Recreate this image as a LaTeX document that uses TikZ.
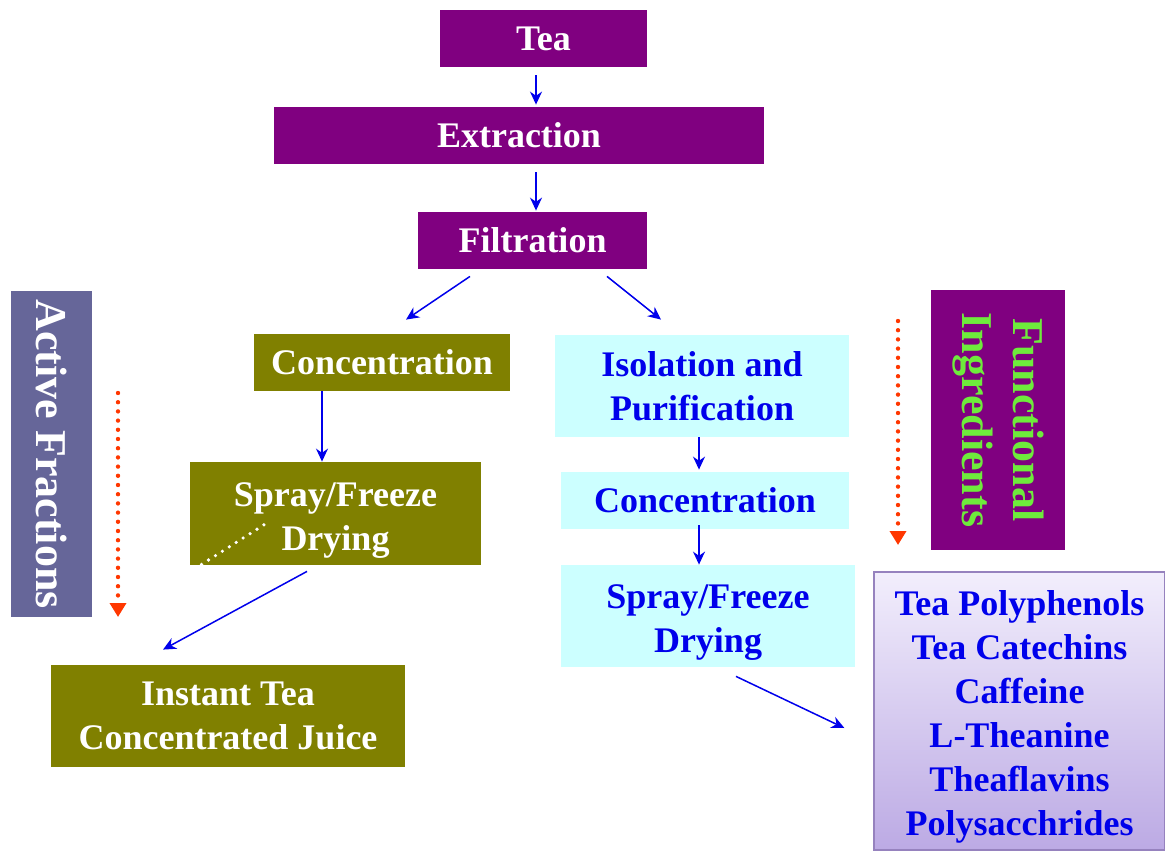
\documentclass[tikz,border=0pt]{standalone}
\usepackage{fontspec}
\setmainfont{Liberation Serif}
\usetikzlibrary{shapes.geometric, arrows, arrows.meta}
\definecolor{teapurple}{RGB}{128,0,128}
\definecolor{teaolive}{RGB}{128,128,0}
\definecolor{teacyan}{RGB}{204,255,255}
\definecolor{teaslate}{RGB}{102,102,153}
\definecolor{tealime}{RGB}{110,235,60}
\definecolor{teablue}{RGB}{0,0,235}
\definecolor{teared}{RGB}{255,55,0}
\definecolor{listtop}{RGB}{242,238,252}
\definecolor{listbot}{RGB}{188,170,228}
\definecolor{listedge}{RGB}{150,130,190}
\newcommand{\lowtop}{\rule{0pt}{18.5pt}}
\tikzstyle{base} = [rectangle, inner sep=0pt, align=center, font=\fontsize{18}{22}\selectfont\bfseries]
\tikzstyle{purplebox} = [base, fill=teapurple, text=white, minimum height=28.5pt]
\tikzstyle{olivebox} = [base, fill=teaolive, text=white]
\tikzstyle{cyanbox} = [base, fill=teacyan, text=teablue]
\tikzstyle{sidebox} = [base, rotate=-90, font=\fontsize{22}{25.5}\selectfont\bfseries]
\tikzstyle{arrow} = [line width=0.75pt, teablue, -{Stealth[length=6.5pt,width=6pt]}]
\tikzstyle{dotarrow} = [line width=2.2pt, teared, line cap=round, dash pattern=on 0pt off 4.6pt, -{Triangle[width=8pt,length=7pt]}]

\begin{document}
\begin{tikzpicture}[x=0.5pt, y=-0.5pt]
            \useasboundingbox (0,0) rectangle (1165,850);
            \node(tea)[purplebox, minimum width=103.5pt] at (543.5,38.5) {Tea};
            \node(extr)[purplebox, minimum width=245pt] at (519,135.5) {Extraction};
            \node(filt)[purplebox, minimum width=114.5pt] at (532.5,240.5) {Filtration};
            \node(concl)[olivebox, minimum width=128pt, minimum height=28.5pt] at (382,362.5) {Concentration};
            \node(sprayl)[olivebox, minimum width=145.5pt, minimum height=51.5pt] at (335.5,513.5) {\lowtop Spray/Freeze\\Drying};
            \node(instant)[olivebox, minimum width=177pt, minimum height=51pt] at (228,716) {Instant Tea\\Concentrated Juice};
            \node(isol)[cyanbox, minimum width=147pt, minimum height=51pt] at (702,386) {Isolation and\\Purification};
            \node(concr)[cyanbox, minimum width=144pt, minimum height=28.5pt] at (705,500.5) {Concentration};
            \node(sprayr)[cyanbox, minimum width=147pt, minimum height=51pt] at (708,616) {\lowtop Spray/Freeze\\Drying};
            \node(list)[base, text=teablue, top color=listtop, bottom color=listbot, draw=listedge, line width=0.6pt, minimum width=145.5pt, minimum height=139pt] at (1019.5,711) {\lowtop Tea Polyphenols\\Tea Catechins\\Caffeine\\L-Theanine\\Theaflavins\\Polysacchrides};
            \node(active)[sidebox, fill=teaslate, text=white, minimum width=163pt, minimum height=40.5pt] at (51.5,454) {Active Fractions};
            \node(func)[sidebox, fill=teapurple, text=tealime, minimum width=130pt, minimum height=67pt] at (998,420) {Functional\\Ingredients};
            \coordinate(aftop) at (118,393);
            \coordinate(afbot) at (118,617);
            \coordinate(fitop) at (898,321);
            \coordinate(fibot) at (898,545);
            \draw[arrow]([xshift=-3.75pt,yshift=-4pt]tea.south)--([xshift=-3.75pt,yshift=1pt]tea.south |- extr.north);
            \draw[arrow]([xshift=8.5pt,yshift=-4pt]extr.south)--([xshift=8.5pt,yshift=0.5pt]extr.south |- filt.north);
            \draw[arrow]([xshift=-31.25pt,yshift=-3.5pt]filt.south)--([xshift=12pt,yshift=7pt]concl.north);
            \draw[arrow]([xshift=37.25pt,yshift=-3.5pt]filt.south)--([xshift=-20.5pt,yshift=7.5pt]isol.north);
            \draw[arrow]([xshift=-30pt]concl.south)--([xshift=-30pt]concl.south |- sprayl.north);
            \draw[arrow]([xshift=-1.5pt]isol.south)--([xshift=-1.5pt,yshift=1pt]isol.south |- concr.north);
            \draw[arrow]([xshift=-3pt,yshift=2pt]concr.south)--([xshift=-3pt]concr.south |- sprayr.north);
            \draw[arrow]([xshift=-14.25pt,yshift=-3pt]sprayl.south)--([xshift=-32.5pt,yshift=7.5pt]instant.north);
            \draw[arrow]([xshift=14pt,yshift=-4.5pt]sprayr.south)--([xshift=-14.5pt,yshift=-8.5pt]list.west);
            \draw[white, line width=1.8pt, line cap=round, dash pattern=on 0pt off 4.1pt]([xshift=6pt,yshift=0.5pt]sprayl.south west)--([xshift=37.5pt,yshift=20.5pt]sprayl.south west);
            \draw[dotarrow](aftop)--(afbot);
            \draw[dotarrow](fitop)--(fibot);
        \end{tikzpicture}
\end{document}
